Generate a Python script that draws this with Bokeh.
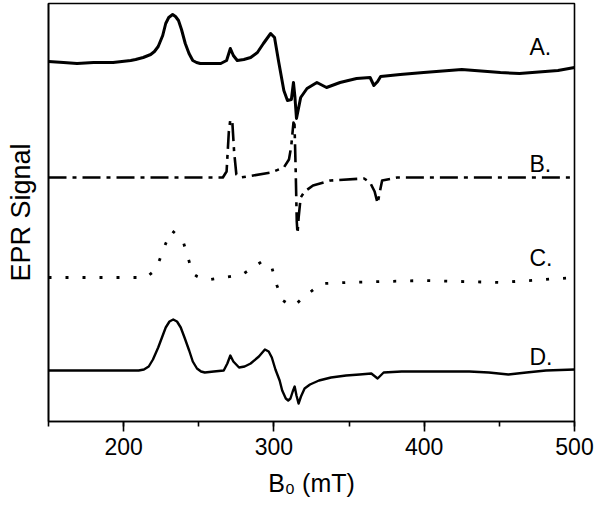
from bokeh.plotting import figure
from bokeh.models import Range1d, SingleIntervalTicker, FixedTicker, Label
from bokeh.embed import file_html
from bokeh.resources import INLINE

# ---- data (field in mT, signal in arbitrary units, traces stacked) ----
a_field = [150, 160, 169, 180, 193, 204.7, 208, 213, 218, 220.5, 223, 226, 228, 230, 232.6, 234.5,
           236.5, 238.5, 241, 243.5, 246, 248.5, 251, 264.6, 268.5, 271, 273, 275.6, 280, 284.5,
           289, 293, 297.8, 300.4, 303, 306.6, 309, 311.6, 313, 314, 315, 317.8, 322, 328.6, 335,
           344, 355, 364, 366.5, 369, 371, 384, 399.6, 425, 450.7, 463.4, 489, 500]
a_signal = [360, 359, 358, 359, 359, 361, 362, 364, 367, 370, 375, 386, 398, 404, 407, 405,
            401, 392, 378, 368, 361, 359, 358, 358, 361, 373, 366, 361, 362, 364,
            369, 378, 388, 384, 361, 331, 321, 322, 339, 324, 303, 324, 333, 339, 334,
            339, 343, 344, 336, 340, 345, 347, 349, 352, 349, 348, 351, 354]

b_field = [150, 266, 268.5, 270, 271, 272.3, 273.5, 275, 278, 298, 306.6, 310, 311.5, 313,
           313.7, 314.5, 315.2, 315.7, 316.5, 317.8, 320.4, 326, 337.7, 360, 364, 367, 369,
           370.5, 372, 382, 500]
b_signal = [244, 244, 250, 290, 302, 300, 270, 247, 244, 249, 254, 262, 275, 299,
            297, 250, 200, 188, 205, 224, 230, 236, 241, 243, 239, 230, 218,
            230, 241, 244, 244]

c_field = [150, 215, 219, 223, 228, 232, 236, 240, 243, 246, 249, 252, 258, 279, 286, 292, 296,
           298.6, 302, 306, 310, 313.8, 318, 323, 328, 333, 348, 399.6, 450.7, 500]
c_signal = [144, 144, 149, 158, 178, 191, 186, 178, 163, 148, 145, 143, 142, 147, 154, 160, 158,
            154, 136, 121, 117, 116, 122, 128, 134, 138, 139, 141, 139, 144]

d_field = [150, 210, 213.5, 216.7, 219.5, 223, 225.5, 228, 230.5, 233, 235.5, 238, 240.5, 243.6,
           246, 248.8, 251.5, 254, 260, 266.6, 269, 271, 273, 276.8, 280.5, 284.5, 290, 294,
           296.5, 298.6, 301, 303.8, 305.5, 307.9, 309.5, 311, 312.5, 313.8, 315, 316.4, 318,
           320.4, 324, 330, 338, 348, 357, 364.8, 369, 373, 385, 399.6, 415, 430, 443, 456,
           468, 481, 500]
d_signal = [51, 51, 52, 55, 62, 74, 84, 94, 100, 102, 100, 94, 84, 71,
            60, 53, 50, 49, 50, 51, 58, 66, 60, 54, 55, 58, 65, 72,
            70, 64, 52, 41, 31, 23, 21, 23, 30, 35, 26, 18, 25,
            33, 37, 41, 44, 46, 47, 48, 43, 49, 50, 50, 50, 50, 49, 47,
            49, 51, 52]

trace_names = ["A.", "B.", "C.", "D."]
label_field = 470
label_signal = [375, 258, 164, 65]

x_ticks_interval = 100
x_start, x_end = 150, 500
y_start, y_end = 0, 418

FONT = "Liberation Sans"

p = figure(frame_width=526, frame_height=418, output_backend="svg", toolbar_location=None,
           x_range=Range1d(x_start, x_end), y_range=Range1d(y_start, y_end),
           min_border_left=48, min_border_right=26, min_border_top=3, min_border_bottom=0)

p.background_fill_color = "white"
p.border_fill_color = "white"
p.grid.visible = False
p.outline_line_color = "black"
p.outline_line_width = 1.6

# x axis
xa = p.xaxis[0]
xa.ticker = SingleIntervalTicker(interval=x_ticks_interval, num_minor_ticks=2)
xa.axis_label = "B\u2080 (mT)"
xa.axis_label_text_font = FONT
xa.axis_label_text_font_size = "25px"
xa.axis_label_text_font_style = "normal"
xa.axis_label_text_color = "black"
xa.axis_label_standoff = 11
xa.major_label_text_font = FONT
xa.major_label_text_font_size = "23px"
xa.major_label_text_color = "black"
xa.major_label_standoff = 6
xa.axis_line_width = 1.6
xa.axis_line_color = "black"
xa.major_tick_line_width = 1.6
xa.minor_tick_line_width = 1.6
xa.major_tick_line_color = "black"
xa.minor_tick_line_color = "black"
xa.major_tick_in = 0
xa.major_tick_out = 10
xa.minor_tick_in = 0
xa.minor_tick_out = 5

# y axis
ya = p.yaxis[0]
ya.ticker = FixedTicker(ticks=[])
ya.major_tick_line_color = None
ya.minor_tick_line_color = None
ya.major_label_text_font_size = "0px"
ya.axis_label = "EPR Signal"
ya.axis_label_text_font = FONT
ya.axis_label_text_font_size = "27px"
ya.axis_label_text_font_style = "normal"
ya.axis_label_text_color = "black"
ya.axis_label_standoff = 13
ya.axis_line_width = 1.6
ya.axis_line_color = "black"

p.line(a_field, a_signal, line_color="black", line_width=3.0, line_join="round")
p.line(b_field, b_signal, line_color="black", line_width=2.6, line_dash="18 6 4 6",
       line_join="round")
p.line(c_field, c_signal, line_color="black", line_width=2.8, line_dash="3 14",
       line_join="round")
p.line(d_field, d_signal, line_color="black", line_width=2.4, line_join="round")

for name, ys in zip(trace_names, label_signal):
    p.add_layout(Label(x=label_field, y=ys, text=name, text_font=FONT, text_font_size="23px",
                       text_color="black", text_align="left", text_baseline="alphabetic"))

open("out.html", "w").write(file_html(p, INLINE))
